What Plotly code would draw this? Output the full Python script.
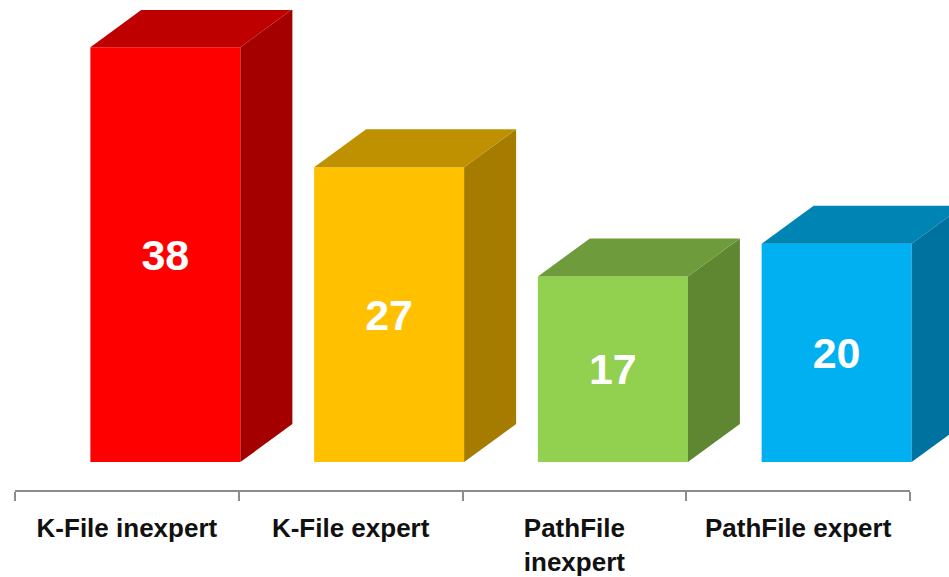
import plotly.graph_objects as go

categories = ["K-File inexpert", "K-File expert", "PathFile<br>inexpert", "PathFile expert"]
values = [38, 27, 17, 20]
front_colors = ["#FF0000", "#FFC000", "#92D050", "#00B0F0"]
side_colors = ["#A50000", "#A67C00", "#5F8731", "#0072A0"]
top_colors = ["#BF0000", "#BF9000", "#6E9C3C", "#0084B4"]

CAT_PX = 223.75
BAR_W = 150 / CAT_PX
DX = 52 / CAT_PX
DY = 38 / 10.92
SHIFT = 38.5 / CAT_PX
positions = list(range(len(values)))
bar_x = [p + SHIFT for p in positions]
AXIS_LEFT, AXIS_RIGHT = -0.5, 3.5

fig = go.Figure()
for x, v, sc, tc in zip(bar_x, values, side_colors, top_colors):
    r = x + BAR_W / 2
    l = x - BAR_W / 2
    fig.add_trace(go.Scatter(x=[r, r + DX, r + DX, r, r], y=[0, DY, v + DY, v, 0], mode="lines",
                             fill="toself", fillcolor=sc, line=dict(width=0),
                             hoverinfo="skip", showlegend=False))
    fig.add_trace(go.Scatter(x=[l, l + DX, r + DX, r, l], y=[v, v + DY, v + DY, v, v], mode="lines",
                             fill="toself", fillcolor=tc, line=dict(width=0),
                             hoverinfo="skip", showlegend=False))
fig.add_trace(go.Bar(x=bar_x, y=values, width=BAR_W, marker=dict(color=front_colors, line=dict(width=0)),
                     text=[str(v) for v in values], textposition="inside", insidetextanchor="middle",
                     textangle=0, insidetextfont=dict(family="Liberation Sans", size=43, color="white", weight="bold"),
                     showlegend=False))

fig.add_shape(type="line", xref="x", yref="paper", x0=AXIS_LEFT, x1=AXIS_RIGHT, y0=0, y1=0,
              line=dict(color="#8c8c8c", width=2), layer="above")

fig.update_layout(
    width=949, height=577, autosize=False, paper_bgcolor="white", plot_bgcolor="white",
    margin=dict(l=15, r=0, t=10, b=86, pad=0, autoexpand=False), showlegend=False,
    font=dict(family="Liberation Sans", color="#111111"),
    xaxis=dict(range=[AXIS_LEFT, AXIS_LEFT + 934 / CAT_PX], tickvals=positions, ticktext=categories, ticks="",
               showgrid=False, zeroline=False, showline=False, automargin=False,
               ticklabelstandoff=19,
               tickfont=dict(size=26, family="Liberation Sans", weight="bold", color="#111111"),
               tickangle=0,
               minor=dict(tickvals=[-0.5, 0.5, 1.5, 2.5, 3.5], ticks="outside", ticklen=9, tickwidth=2,
                          tickcolor="#8c8c8c", showgrid=False)),
    yaxis=dict(range=[-2.65, 41.4], visible=False, automargin=False),
)
fig.write_html("out.html", config=dict(displayModeBar=False),
               post_script="document.body.style.margin='0';document.documentElement.style.overflow='hidden';")
